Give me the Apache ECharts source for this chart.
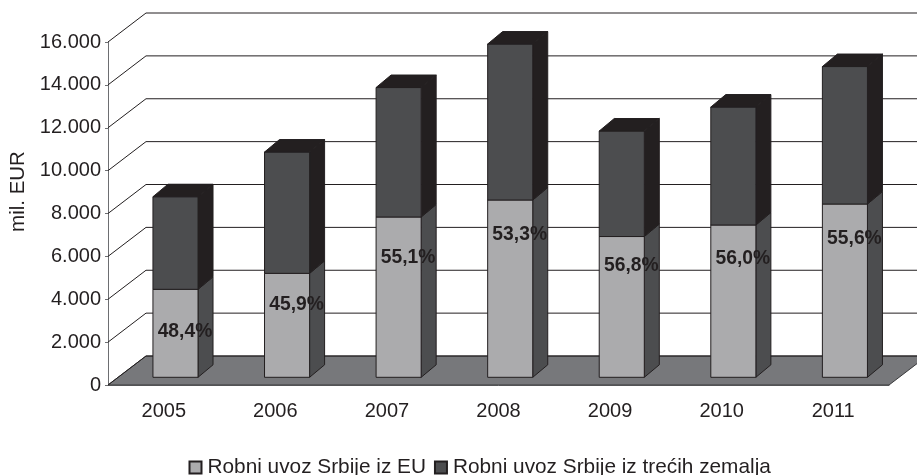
<!DOCTYPE html>
<html>
<head>
<meta charset="utf-8">
<style>html,body{margin:0;padding:0;background:#fff}#c{width:917px;height:475px}</style>
<script src="https://cdn.jsdelivr.net/npm/echarts@6/dist/echarts.min.js"></script>
</head>
<body>
<div id="c"></div>
<script>
const categories = ['2005','2006','2007','2008','2009','2010','2011'];
const importEU = [4104,4850,7477,8270,6567,7104,8083];
const importOther = [4319,5658,6040,7276,4921,5503,6413];
const shareLabels = ['48,4%','45,9%','55,1%','53,3%','56,8%','56,0%','55,6%'];
const shareLabelLevels = [2206,3480,5658,6730,5284,5611,6544];
const gridValues = [0,2000,4000,6000,8000,10000,12000,14000,16000];
const seriesNames = ['Robni uvoz Srbije iz EU','Robni uvoz Srbije iz trećih zemalja'];

const INK = '#231f20';
const WALL = {dx:38, dy:-29};
const BAR = {dx:15, dy:-12.5, offX:11.7, offY:-7.7, widthRatio:0.404};

const poly = (points, fill, stroke) => ({
  type:'polygon',
  shape:{points},
  style:{fill, stroke:stroke||INK, lineWidth:1}
});

function renderFloor(params, api){
  const cs = params.coordSys;
  const y = api.coord([0,0])[1];
  const l = cs.x, r = cs.x + cs.width;
  return poly([[l,y],[r,y],[r+WALL.dx,y+WALL.dy],[l+WALL.dx,y+WALL.dy]],'#77787b','#3a3a3c');
}
function renderGrid(params, api){
  const cs = params.coordSys;
  const y = api.coord([0,api.value(0)])[1];
  const l = cs.x;
  return {
    type:'polyline',
    shape:{points:[[l,y],[l+WALL.dx,y+WALL.dy],[l+cs.width+WALL.dx,y+WALL.dy]]},
    style:{fill:null,stroke:INK,lineWidth:1}
  };
}
function barRenderer(frontFill, sideFill, withTop){
  return function(params, api){
    const i = api.value(0);
    const a = api.coord([i,api.value(1)]);
    const b = api.coord([i,api.value(2)]);
    const w = api.size([1,0])[0]*BAR.widthRatio;
    const x0 = a[0]+BAR.offX-w/2, x1 = x0+w;
    const yb = a[1]+BAR.offY, yt = b[1]+BAR.offY;
    const kids = [
      poly([[x1,yb],[x1+BAR.dx,yb+BAR.dy],[x1+BAR.dx,yt+BAR.dy],[x1,yt]],sideFill),
      poly([[x0,yb],[x1,yb],[x1,yt],[x0,yt]],frontFill)
    ];
    if(withTop) kids.push(poly([[x0,yt],[x1,yt],[x1+BAR.dx,yt+BAR.dy],[x0+BAR.dx,yt+BAR.dy]],INK));
    return {type:'group',children:kids};
  };
}
function renderShare(params, api){
  const i = api.value(0);
  const p = api.coord([i,api.value(1)]);
  return {
    type:'text',
    x:p[0]+BAR.offX+9.5,
    y:p[1]+BAR.offY+1.5,
    style:{text:shareLabels[i],fill:INK,font:'bold 19.3px "Liberation Sans"',align:'center',verticalAlign:'middle'}
  };
}

const euData = importEU.map((v,i)=>[i,0,v]);
const otherData = importOther.map((v,i)=>[i,importEU[i],importEU[i]+v]);

const chart = echarts.init(document.getElementById('c'),null,{renderer:'canvas'});
chart.setOption({
  animation:false,
  backgroundColor:'#fff',
  textStyle:{fontFamily:'"Liberation Sans"',color:INK},
  grid:{left:108,right:28,top:42,bottom:90,containLabel:false,outerBoundsMode:'none'},
  legend:{
    data:seriesNames.map(name=>({name})),
    left:183.5, top:452,
    itemWidth:12,itemHeight:12,itemGap:8,
    icon:'rect',
    textStyle:{fontSize:20.8,color:INK,padding:[0,0,0,1]},
    selectedMode:false
  },
  xAxis:{
    type:'category',data:categories,
    axisLine:{lineStyle:{color:'#6d6e71',width:1}},
    axisTick:{length:5,lineStyle:{color:'#6d6e71'}},
    axisLabel:{fontSize:20,color:INK,margin:16}
  },
  yAxis:{
    type:'value',min:0,max:16000,interval:2000,
    name:'mil. EUR',nameLocation:'middle',nameGap:6.5,
    nameTextStyle:{fontSize:20.5,color:INK,padding:[0,0,0,44]},
    axisLine:{show:true,lineStyle:{color:'#6d6e71',width:1}},
    axisTick:{show:true,length:3,lineStyle:{color:'#6d6e71'}},
    splitLine:{show:false},
    axisLabel:{fontSize:20,color:INK,margin:7,padding:[5,0,0,0],formatter:v=>String(v).replace(/\B(?=(\d{3})+$)/g,'.')}
  },
  series:[
    {type:'custom',name:'floor',silent:true,clip:false,z:1,renderItem:renderFloor,data:[[0]],encode:{x:[],y:[]}},
    {type:'custom',name:'grid',silent:true,clip:false,z:2,renderItem:renderGrid,data:gridValues.map(v=>[v]),encode:{x:[],y:0}},
    {type:'custom',name:seriesNames[0],clip:false,z:3,itemStyle:{color:'#ababad',borderColor:INK,borderWidth:1},
      renderItem:barRenderer('#ababad','#4c4d4f',false),data:euData,encode:{x:0,y:[1,2]}},
    {type:'custom',name:seriesNames[1],clip:false,z:3,itemStyle:{color:'#4c4d4f',borderColor:INK,borderWidth:1},
      renderItem:barRenderer('#4c4d4f',INK,true),data:otherData,encode:{x:0,y:[1,2]}},
    {type:'custom',name:'share',silent:true,clip:false,z:4,renderItem:renderShare,
      data:shareLabelLevels.map((v,i)=>[i,v]),encode:{x:0,y:1}}
  ]
});
</script>
</body>
</html>
